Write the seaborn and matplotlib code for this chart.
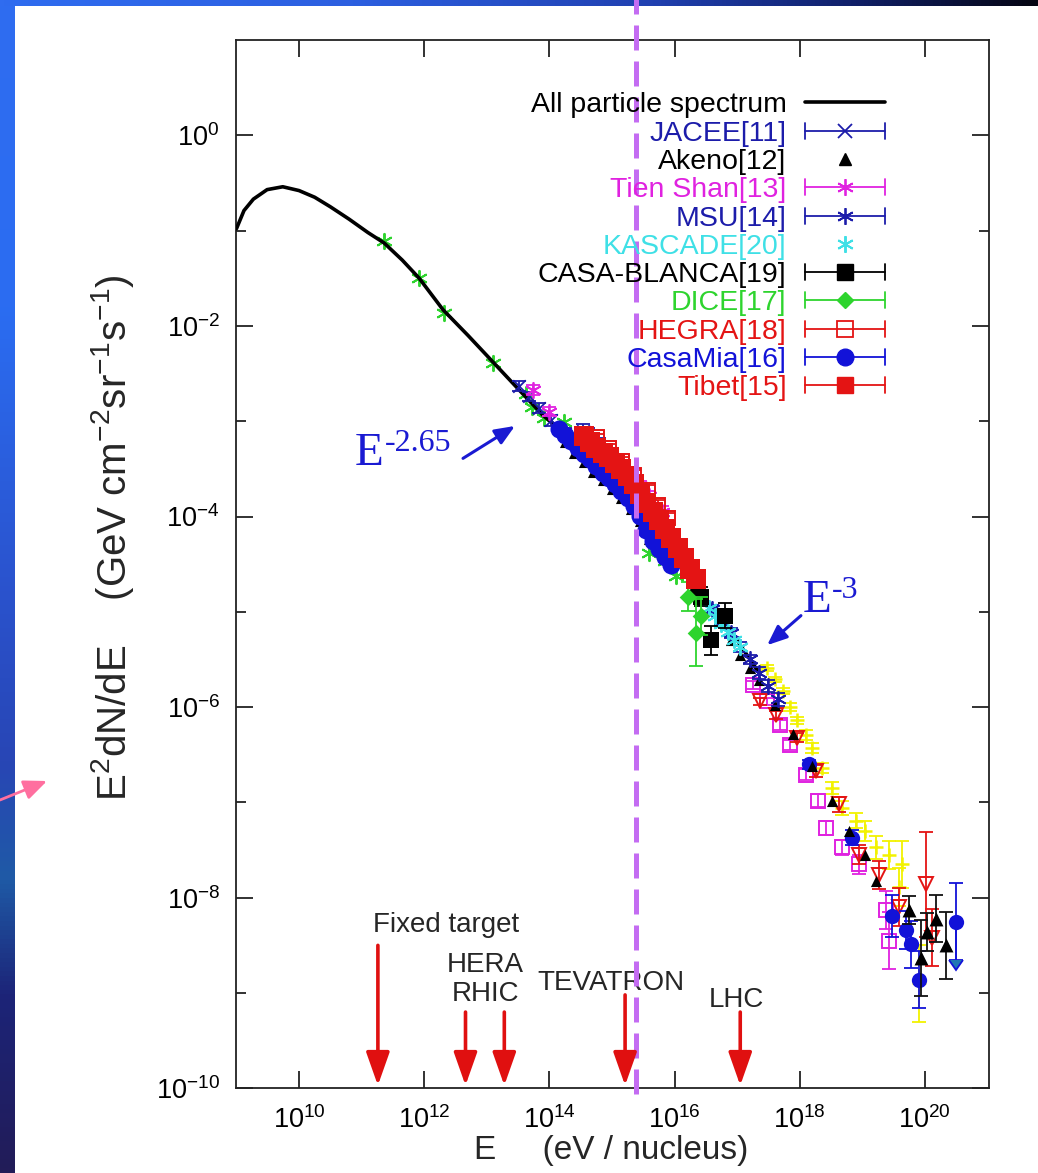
import matplotlib as mpl
mpl.use('Agg')
import matplotlib.pyplot as plt
from matplotlib.lines import Line2D
from matplotlib.legend_handler import HandlerLine2D
from matplotlib.colors import LinearSegmentedColormap
from matplotlib.ticker import FixedLocator, NullLocator, NullFormatter, LogFormatterSciNotation
import seaborn as sns
import numpy as np

# all values are log10: E in eV, flux = E^2 dN/dE, err = half width of the bar in decades
LINE_E = [9.0, 9.12, 9.27, 9.49, 9.74, 10.0, 10.25, 10.5, 10.8, 11.1, 11.36, 11.65, 11.92, 12.3, 12.7,
          13.1, 13.5, 13.9, 14.2, 14.6, 15.0, 15.4, 15.8, 16.2, 16.6, 17.0, 17.35]
LINE_F = [-0.98, -0.79, -0.67, -0.57, -0.54, -0.58, -0.65, -0.75, -0.88, -1.02, -1.13, -1.31, -1.50, -1.83, -2.10,
          -2.38, -2.66, -2.94, -3.10, -3.38, -3.66, -3.93, -4.27, -4.61, -4.95, -5.30, -5.64]

DIRECT_E = [11.36, 11.92, 12.31, 13.10, 13.62, 13.73, 13.91, 14.23, 15.60, 15.85, 16.03]
DIRECT_F = [-1.11, -1.50, -1.86, -2.39, -2.71, -2.85, -2.97, -3.01, -4.38, -4.47, -4.62]

JACEE_E = [13.52, 13.68, 13.84, 14.02, 14.25, 14.53, 14.62, 14.8]
JACEE_F = [-2.63, -2.74, -2.86, -2.99, -3.13, -3.10, -3.14, -3.26]
JACEE_ERR = [0.05, 0.05, 0.05, 0.06, 0.06, 0.07, 0.07, 0.08]

AKENO_E = [14.25, 14.4, 14.55, 14.7, 14.85, 15.0, 15.15, 15.3, 15.45, 15.6, 16.3, 16.45,
           16.9, 17.05, 17.2, 17.35, 17.6, 17.9, 18.2, 18.52, 18.79, 19.05, 19.22]
AKENO_F = [-3.22, -3.33, -3.43, -3.53, -3.62, -3.71, -3.81, -3.92, -4.05, -4.24, -4.75, -4.88,
           -5.30, -5.45, -5.59, -5.72, -5.98, -6.28, -6.62, -6.98, -7.30, -7.55, -7.82]

TIENSHAN_E = [13.74, 14.0, 15.45, 15.6, 15.8]
TIENSHAN_F = [-2.67, -2.90, -3.68, -3.78, -3.95]
TIENSHAN_ERR = [0.05, 0.05, 0.05, 0.05, 0.06]

MSU_E = [16.6, 16.75, 16.9, 17.05, 17.2, 17.35, 17.5, 17.65]
MSU_F = [-4.97, -5.10, -5.22, -5.37, -5.50, -5.64, -5.78, -5.92]
MSU_ERR = [0.04, 0.04, 0.05, 0.05, 0.05, 0.06, 0.06, 0.07]

KASCADE_E = [16.55, 16.65, 16.75, 16.85, 16.95, 17.05]
KASCADE_F = [-4.96, -5.04, -5.13, -5.21, -5.30, -5.37]

CASAB_E = [16.42, 16.59, 16.80]
CASAB_F = [-4.84, -5.30, -5.04]
CASAB_ERR = [0.10, 0.15, 0.13]

DICE_E = [16.22, 16.43, 16.35]
DICE_F = [-4.84, -5.04, -5.22]
DICE_ERR = [0.15, 0.20, 0.35]

HEGRA_E = [14.76, 14.96, 15.16, 15.36, 15.57, 15.73, 15.9]
HEGRA_F = [-3.17, -3.28, -3.42, -3.56, -3.72, -3.88, -4.02]
HEGRA_ERR = [0.04, 0.04, 0.04, 0.05, 0.05, 0.05, 0.06]

CASAMIA_E = [14.15, 14.25, 14.35, 14.45, 14.55, 14.65, 14.75, 14.85, 14.95, 15.05,
             15.15, 15.25, 15.35, 15.45, 15.55, 15.65, 15.75, 15.85, 15.95]
CASAMIA_F = [-3.08, -3.14, -3.21, -3.28, -3.34, -3.40, -3.47, -3.54, -3.60, -3.66,
             -3.73, -3.81, -3.89, -3.99, -4.14, -4.26, -4.34, -4.42, -4.51]
CASAMIA_ERR = [0.03] * 19

TIBET_E = [14.55, 14.65, 14.75, 14.85, 14.95, 15.05, 15.15, 15.25, 15.35, 15.45,
           15.55, 15.65, 15.75, 15.85, 15.95, 16.05, 16.15, 16.25, 16.35]
TIBET_F = [-3.16, -3.22, -3.28, -3.33, -3.38, -3.44, -3.50, -3.58, -3.66, -3.76,
           -3.86, -3.95, -4.04, -4.13, -4.23, -4.33, -4.44, -4.55, -4.66]
TIBET_ERR = [0.03] * 19

# unlabelled high energy sets
YEL_E = [17.47, 17.6, 17.73, 17.84, 17.95, 18.1, 18.2, 18.36, 18.52, 18.68, 18.9, 19.05, 19.22, 19.43, 19.59, 19.64, 19.9]
YEL_F = [-5.59, -5.71, -5.83, -6.00, -6.14, -6.29, -6.43, -6.64, -6.85, -7.06, -7.19, -7.30, -7.47, -7.55, -7.89, -7.65, -8.90]
YEL_ERR = [0.03, 0.03, 0.03, 0.04, 0.04, 0.05, 0.05, 0.05, 0.06, 0.07, 0.08, 0.10, 0.12, 0.15, 0.20, 0.25, 0.40]

MAG_E = [17.25, 17.47, 17.68, 17.84, 18.1, 18.3, 18.42, 18.68, 18.95, 19.38, 19.43]
MAG_F = [-5.77, -5.94, -6.19, -6.40, -6.71, -6.98, -7.27, -7.47, -7.65, -8.13, -8.45]
MAG_ERR = [0.04, 0.04, 0.05, 0.05, 0.06, 0.07, 0.07, 0.08, 0.10, 0.20, 0.30]

RTRI_E = [17.36, 17.62, 17.95, 18.26, 18.63, 18.95, 19.27, 19.59, 20.02, 20.12]
RTRI_F = [-5.94, -6.08, -6.32, -6.67, -7.02, -7.55, -7.76, -8.10, -7.86, -8.42]
RTRI_ERR = [0.04, 0.04, 0.05, 0.06, 0.08, 0.10, 0.15, 0.20, 0.55, 0.30]

BCIRC_E = [18.15, 18.84, 19.48, 19.70, 19.78, 19.91, 20.50]
BCIRC_F = [-6.60, -7.37, -8.19, -8.34, -8.49, -8.86, -8.25]
BCIRC_ERR = [0.05, 0.08, 0.22, 0.20, 0.25, 0.30, 0.40]

BTRI_E = [19.75, 19.94, 20.04, 20.18, 20.34]
BTRI_F = [-8.13, -8.63, -8.36, -8.22, -8.50]
BTRI_ERR = [0.15, 0.40, 0.20, 0.25, 0.35]

ACC_NAMES = ['Fixed target', 'HERA\nRHIC', 'TEVATRON', 'LHC']
ACC_E = [[11.26], [12.66, 13.28], [15.21], [17.05]]
KNEE_E = 15.39

DBLUE = '#1c1caa'
BLUE = '#1212d8'
MAG = '#e022e0'
CYAN = '#3fe0e6'
GREEN = '#2ed42e'
RED = '#e41414'
YEL = '#f2f200'
NOTE = '#1a1ad2'

sns.set_style('ticks')
plt.rcParams['font.family'] = ['Liberation Sans', 'DejaVu Sans']
plt.rcParams['mathtext.default'] = 'regular'

fig = plt.figure(figsize=(10.38, 11.73), dpi=100, facecolor='white')

# slide background strips
bg = fig.add_axes([0, 0, 1, 1], zorder=-5)
bg.set_xlim(0, 1038)
bg.set_ylim(1173, 0)
bg.axis('off')
left_cm = LinearSegmentedColormap.from_list('l', [(0, '#2f6cf0'), (0.26, '#2b6df2'), (0.51, '#2a52cc'),
                                                  (0.65, '#2846b5'), (0.75, '#1f5aa6'), (0.85, '#1c2478'),
                                                  (1, '#221c58')])
top_cm = LinearSegmentedColormap.from_list('t', [(0, '#2f6cf0'), (0.34, '#2c5fe0'), (0.63, '#2040b0'),
                                                 (0.82, '#10206a'), (1, '#050512')])
bg.imshow(np.linspace(0, 1, 256)[:, None], cmap=left_cm, extent=(0, 15, 1173, 0), aspect='auto')
bg.imshow(np.linspace(0, 1, 256)[None, :], cmap=top_cm, extent=(0, 1038, 6, 0), aspect='auto')
bg.annotate('', xy=(47, 781), xytext=(0, 800),
            arrowprops=dict(arrowstyle='-|>,head_length=0.7,head_width=0.3', color='#ff6f9f',
                            lw=2, mutation_scale=20, shrinkA=0, shrinkB=0))

ax = fig.add_axes([0.2278, 0.0722, 0.7253, 0.8937])
ax.set_xscale('log')
ax.set_yscale('log')
ax.set_xlim(1e9, 10**21.03)
ax.set_ylim(1e-10, 10)


def lin(v):
    return 10 ** np.asarray(v, dtype=float)


def bars(E, F, err, color, z, **kw):
    x, y, e = lin(E), lin(F), np.asarray(err)
    ax.errorbar(x, y, yerr=[y - y * 10 ** -e, y * 10 ** e - y], fmt='none', ecolor=color,
                elinewidth=1.3, capsize=5, capthick=1.3, zorder=z, **kw)


def pts(E, F, color, marker, size, z, lw=0):
    sns.scatterplot(x=lin(E), y=lin(F), marker=marker, s=size ** 2, color=color,
                    edgecolor=color, linewidth=lw, ax=ax, zorder=z, legend=False)


def open_pts(E, F, color, marker, size, z):
    ax.plot(lin(E), lin(F), ls='none', marker=marker, ms=size, mfc='none', mec=color, mew=1.4, zorder=z)


# unlabelled sets
pts(DIRECT_E, DIRECT_F, GREEN, (6, 2, 0), 11, 2, lw=1.4)
bars(YEL_E, YEL_F, YEL_ERR, YEL, 2)
pts(YEL_E, YEL_F, YEL, '+', 10, 2.1, lw=1.8)
bars(MAG_E, MAG_F, MAG_ERR, MAG, 2.2)
open_pts(MAG_E, MAG_F, MAG, 's', 10, 2.3)
bars(RTRI_E, RTRI_F, RTRI_ERR, RED, 2.4)
open_pts(RTRI_E, RTRI_F, RED, 'v', 10, 2.5)
bars(BCIRC_E, BCIRC_F, BCIRC_ERR, BLUE, 2.6)
bars(BCIRC_E[-1:], BCIRC_F[-1:], BCIRC_ERR[-1:], BLUE, 2.6, uplims=True)
pts(BCIRC_E, BCIRC_F, BLUE, 'o', 11, 2.7)
bars(BTRI_E, BTRI_F, BTRI_ERR, '#111111', 2.8)
pts(BTRI_E, BTRI_F, 'black', '^', 10, 2.9)

sns.lineplot(x=lin(LINE_E), y=lin(LINE_F), color='black', lw=2.6, sort=False, estimator=None, ax=ax, zorder=3)

bars(JACEE_E, JACEE_F, JACEE_ERR, DBLUE, 4)
pts(JACEE_E, JACEE_F, DBLUE, 'x', 9, 4.1, lw=1.3)
pts(AKENO_E, AKENO_F, 'black', '^', 8, 4.2)
bars(TIENSHAN_E, TIENSHAN_F, TIENSHAN_ERR, MAG, 4.3)
pts(TIENSHAN_E, TIENSHAN_F, MAG, (6, 2, 0), 11, 4.4, lw=1.3)
bars(MSU_E, MSU_F, MSU_ERR, DBLUE, 4.5)
pts(MSU_E, MSU_F, DBLUE, (6, 2, 0), 11, 4.6, lw=1.3)
pts(KASCADE_E, KASCADE_F, CYAN, (6, 2, 0), 11, 4.7, lw=1.4)
bars(CASAB_E, CASAB_F, CASAB_ERR, 'black', 4.8)
pts(CASAB_E, CASAB_F, 'black', 's', 11, 4.9)
bars(DICE_E, DICE_F, DICE_ERR, GREEN, 5.0)
pts(DICE_E, DICE_F, GREEN, 'D', 9, 5.1)
bars(CASAMIA_E, CASAMIA_F, CASAMIA_ERR, BLUE, 5.2)
pts(CASAMIA_E, CASAMIA_F, BLUE, 'o', 13, 5.3)
bars(TIBET_E, TIBET_F, TIBET_ERR, RED, 5.4)
pts(TIBET_E, TIBET_F, RED, 's', 14, 5.5)
bars(HEGRA_E, HEGRA_F, HEGRA_ERR, RED, 5.6)
open_pts(HEGRA_E, HEGRA_F, RED, 's', 10, 5.7)

# knee marker line, runs past the top of the axes
ax.axvline(10 ** KNEE_E, ymin=-0.005, ymax=1.04, clip_on=False, color='#c46cf2', lw=3.6,
           dashes=(5, 2.2), zorder=6)

# accelerator energies
arr_kw = dict(arrowstyle='-|>,head_length=0.85,head_width=0.3', color='#e01010', lw=2.6,
              mutation_scale=24, shrinkA=0, shrinkB=0)
tops = [-8.50, -9.20, -9.02, -9.20]
for name, es, top in zip(ACC_NAMES, ACC_E, tops):
    for e in es:
        ax.annotate('', xy=(10 ** e, 10 ** -9.97), xytext=(10 ** e, 10 ** top), arrowprops=arr_kw, zorder=7)
ax.text(10 ** 11.18, 10 ** -8.29, ACC_NAMES[0], fontsize=20, ha='left', va='center')
ax.text(10 ** 12.98, 10 ** -8.86, ACC_NAMES[1], fontsize=20, ha='center', va='center', linespacing=1.12)
ax.text(10 ** 14.99, 10 ** -8.90, ACC_NAMES[2], fontsize=20, ha='center', va='center')
ax.text(10 ** 16.99, 10 ** -9.07, ACC_NAMES[3], fontsize=20, ha='center', va='center')

# slope notes: big serif E with a raised plain-text exponent
for e, f, ex, tip, tail in [(10.89, -3.46, '-2.65', (13.45, -3.05), (12.62, -3.39)),
                            (18.04, -5.0, '-3', (17.48, -5.35), (18.02, -5.04))]:
    ax.text(10 ** e, 10 ** f, 'E', fontsize=34, family='Liberation Serif', color=NOTE, va='baseline', ha='left')
    ax.annotate(ex, xy=(10 ** e, 10 ** f), xytext=(21.5, 10), textcoords='offset points', fontsize=23,
                family='Liberation Serif', color=NOTE, va='baseline', ha='left')
    ax.annotate('', xy=(10 ** tip[0], 10 ** tip[1]), xytext=(10 ** tail[0], 10 ** tail[1]),
                arrowprops=dict(arrowstyle='-|>,head_length=0.6,head_width=0.25', color=NOTE, lw=2.2,
                                mutation_scale=20, shrinkA=0, shrinkB=0))

# axes styling
ax.xaxis.set_major_locator(FixedLocator([1e10, 1e12, 1e14, 1e16, 1e18, 1e20]))
ax.xaxis.set_minor_locator(NullLocator())
ax.yaxis.set_major_locator(FixedLocator([1e-10, 1e-8, 1e-6, 1e-4, 1e-2, 1e0]))
ax.yaxis.set_minor_locator(FixedLocator([1e-9, 1e-7, 1e-5, 1e-3, 1e-1]))
ax.xaxis.set_major_formatter(LogFormatterSciNotation())
ax.yaxis.set_major_formatter(LogFormatterSciNotation())
ax.yaxis.set_minor_formatter(NullFormatter())
ax.tick_params(which='both', direction='in', top=True, right=True, width=1.3, colors='#222222',
               labelcolor='black', labelsize=19.5)
ax.tick_params(which='major', length=12)
ax.tick_params(which='minor', length=7)
ax.tick_params(axis='y', pad=12)
ax.tick_params(axis='x', pad=13)
for sp in ax.spines.values():
    sp.set_linewidth(1.3)
    sp.set_color('#222222')

ax.set_xlabel('E     (eV / nucleus)', fontsize=24)
ax.xaxis.set_label_coords(0.498, -0.045)
ax.set_ylabel(r'E$^2$dN/dE    (GeV cm$^{-2}$sr$^{-1}$s$^{-1}$)', fontsize=29)
ax.yaxis.set_label_coords(-0.133, 0.525)


class CapLine(HandlerLine2D):
    def create_artists(self, legend, orig_handle, xdescent, ydescent, width, height, fontsize, trans):
        arts = super().create_artists(legend, orig_handle, xdescent, ydescent, width, height, fontsize, trans)
        y = (height - ydescent) / 2
        for x in (-xdescent, width - xdescent):
            cap = Line2D([x, x], [y - 0.4 * height, y + 0.4 * height], color=orig_handle.get_color(),
                         lw=orig_handle.get_linewidth(), transform=trans)
            arts.append(cap)
        return arts


star = (6, 2, 0)
h_all = Line2D([], [], color='black', lw=2.6)
h_jac = Line2D([], [], color=DBLUE, lw=1.3, marker='x', ms=10, mew=1.3)
h_ak = Line2D([], [], color='black', ls='none', marker='^', ms=8)
h_ts = Line2D([], [], color=MAG, lw=1.3, marker=star, ms=12, mew=1.3)
h_msu = Line2D([], [], color=DBLUE, lw=1.3, marker=star, ms=12, mew=1.3)
h_kas = Line2D([], [], color=CYAN, ls='none', marker=star, ms=12, mew=1.4)
h_cb = Line2D([], [], color='black', lw=1.3, marker='s', ms=11)
h_dice = Line2D([], [], color=GREEN, lw=1.3, marker='D', ms=8)
h_heg = Line2D([], [], color=RED, lw=1.3, marker='s', ms=11, mfc='none', mew=1.3)
h_cm = Line2D([], [], color=BLUE, lw=1.3, marker='o', ms=12)
h_tib = Line2D([], [], color=RED, lw=1.3, marker='s', ms=12)

handles = [h_all, h_jac, h_ak, h_ts, h_msu, h_kas, h_cb, h_dice, h_heg, h_cm, h_tib]
labels = ['All particle spectrum', 'JACEE[11]', 'Akeno[12]', 'Tien Shan[13]', 'MSU[14]', 'KASCADE[20]',
          'CASA-BLANCA[19]', 'DICE[17]', 'HEGRA[18]', 'CasaMia[16]', 'Tibet[15]']
label_colors = ['black', DBLUE, 'black', MAG, DBLUE, CYAN, 'black', GREEN, RED, BLUE, RED]
hmap = {h: CapLine() for h in [h_jac, h_ts, h_msu, h_cb, h_dice, h_heg, h_cm, h_tib]}

leg = ax.legend(handles, labels, handler_map=hmap, loc='upper right', bbox_to_anchor=(0.8615, 0.950),
                frameon=False, markerfirst=False, fontsize=20.5, labelspacing=0.08, handlelength=2.8,
                handletextpad=0.66, borderpad=0, borderaxespad=0, numpoints=1, labelcolor=label_colors)
leg.set_zorder(8)

fig.savefig('out.png', dpi=100, facecolor='white')
